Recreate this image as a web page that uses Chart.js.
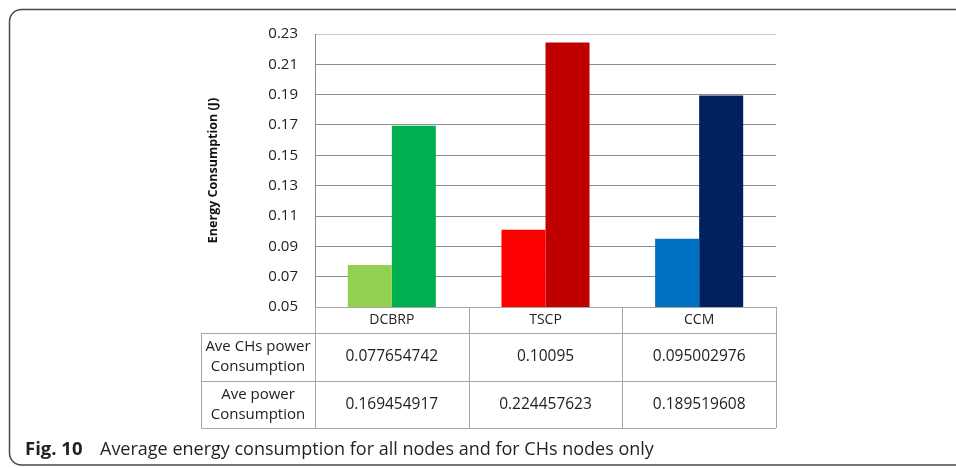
<!DOCTYPE html>
<html>
<head>
<meta charset="utf-8">
<script src="https://cdn.jsdelivr.net/npm/chart.js@4.4.1/dist/chart.umd.min.js"></script>
<style>
  html, body { margin: 0; padding: 0; background: #fff; }
  #wrap { width: 956px; height: 468px; position: relative; }
</style>
</head>
<body>
<div id="wrap"><canvas id="myChart" width="956" height="468"></canvas></div>
<script>
// data
const categories = ['DCBRP', 'TSCP', 'CCM'];
const chPower = [0.077654742, 0.10095, 0.095002976];
const allPower = [0.169454917, 0.224457623, 0.189519608];
const rowLabels = [['Ave CHs power', 'Consumption'], ['Ave power', 'Consumption']];
const yTicks = [0.05, 0.07, 0.09, 0.11, 0.13, 0.15, 0.17, 0.19, 0.21, 0.23];
const chColors = ['#92d050', '#ff0000', '#0070c0'];
const allColors = ['#00b050', '#c00000', '#002060'];
const yTitle = 'Energy Consumption (J)';
const captionBold = 'Fig. 10';
const captionText = 'Average energy consumption for all nodes and for CHs nodes only';

const FONT = "'Open Sans', 'Noto Sans', sans-serif";

// data table + frame + caption
const tablePlugin = {
  id: 'tablePlugin',
  afterDraw(chart) {
    const c = chart.ctx;
    const x = chart.scales.x;
    const area = chart.chartArea;
    const colW = (area.right - area.left) / categories.length;
    const headLeft = 201;
    const rows = [area.bottom, 333, 381, 428];

    c.save();
    c.strokeStyle = '#a6a6a6';
    c.lineWidth = 1;
    c.beginPath();
    // horizontal lines
    c.moveTo(area.left, rows[0] + 0.5); c.lineTo(area.right, rows[0] + 0.5);
    for (let r = 1; r < rows.length; r++) {
      c.moveTo(headLeft, rows[r] + 0.5); c.lineTo(area.right, rows[r] + 0.5);
    }
    // vertical lines
    c.moveTo(headLeft + 0.5, rows[1]); c.lineTo(headLeft + 0.5, rows[3]);
    for (let i = 0; i <= categories.length; i++) {
      const px = Math.round(area.left + i * colW) + 0.5;
      c.moveTo(px, rows[0]); c.lineTo(px, rows[3]);
    }
    c.stroke();

    // values
    c.fillStyle = '#222';
    c.textAlign = 'center';
    c.textBaseline = 'middle';
    const series = [chPower, allPower];
    series.forEach((vals, r) => {
      const cy = (rows[r + 1] + rows[r + 2]) / 2;
      c.font = '15.5px ' + FONT;
      vals.forEach((v, i) => {
        c.fillText(String(v), x.getPixelForValue(i), cy);
      });
      // row header
      c.font = '15px ' + FONT;
      const hx = (headLeft + area.left) / 2;
      c.fillText(rowLabels[r][0], hx, cy - 10);
      c.fillText(rowLabels[r][1], hx, cy + 10);
    });

    // outer frame (rounded, open to the right)
    c.strokeStyle = '#4a4a4a';
    c.lineWidth = 1.5;
    const fx = 9.5, fy = 9.5, fb = 465, rr = 12;
    c.beginPath();
    c.moveTo(970, fy);
    c.lineTo(fx + rr, fy);
    c.arcTo(fx, fy, fx, fy + rr, rr);
    c.lineTo(fx, fb - rr);
    c.arcTo(fx, fb, fx + rr, fb, rr);
    c.lineTo(970, fb);
    c.stroke();

    // caption
    c.textAlign = 'left';
    c.textBaseline = 'middle';
    c.fillStyle = '#231f20';
    c.font = 'bold 18.5px ' + FONT;
    c.fillText(captionBold, 25, 450);
    c.font = '18px ' + FONT;
    c.fillText(captionText, 100, 450);
    c.restore();
  }
};

new Chart(document.getElementById('myChart'), {
  type: 'bar',
  data: {
    labels: categories,
    datasets: [
      { label: 'Ave CHs power Consumption', data: chPower, backgroundColor: chColors, borderWidth: 0 },
      { label: 'Ave power Consumption', data: allPower, backgroundColor: allColors, borderWidth: 0 }
    ]
  },
  options: {
    responsive: false,
    animation: false,
    events: [],
    categoryPercentage: 0.573,
    barPercentage: 1.0,
    layout: { padding: { left: 195, right: 180, top: 34, bottom: 0 } },
    plugins: { legend: { display: false }, tooltip: { enabled: false } },
    scales: {
      y: {
        min: 0.05,
        max: 0.23,
        afterBuildTicks: (scale) => { scale.ticks = yTicks.map(v => ({ value: v })); },
        afterFit: (scale) => { scale.width = 120; },
        ticks: {
          padding: 17,
          color: '#222',
          font: { family: FONT, size: 15 },
          callback: (v) => Number(v).toFixed(2)
        },
        grid: {
          drawTicks: false,
          color: (ctx) => (ctx.tick && ctx.tick.value === 0.23 ? '#c8c8c8' : '#8c8c8c'),
          lineWidth: 1
        },
        border: { display: true, color: '#8c8c8c' },
        title: {
          display: true,
          text: yTitle,
          color: '#111',
          font: { family: FONT, size: 12.5, weight: 'bold' },
          padding: { top: 11, bottom: 0 }
        }
      },
      x: {
        afterFit: (scale) => { scale.height = 161; },
        ticks: {
          padding: 5,
          color: '#222',
          font: { family: FONT, size: 14 }
        },
        grid: { display: false, drawTicks: false },
        border: { display: true, color: '#a6a6a6' }
      }
    }
  },
  plugins: [tablePlugin]
});
</script>
</body>
</html>
